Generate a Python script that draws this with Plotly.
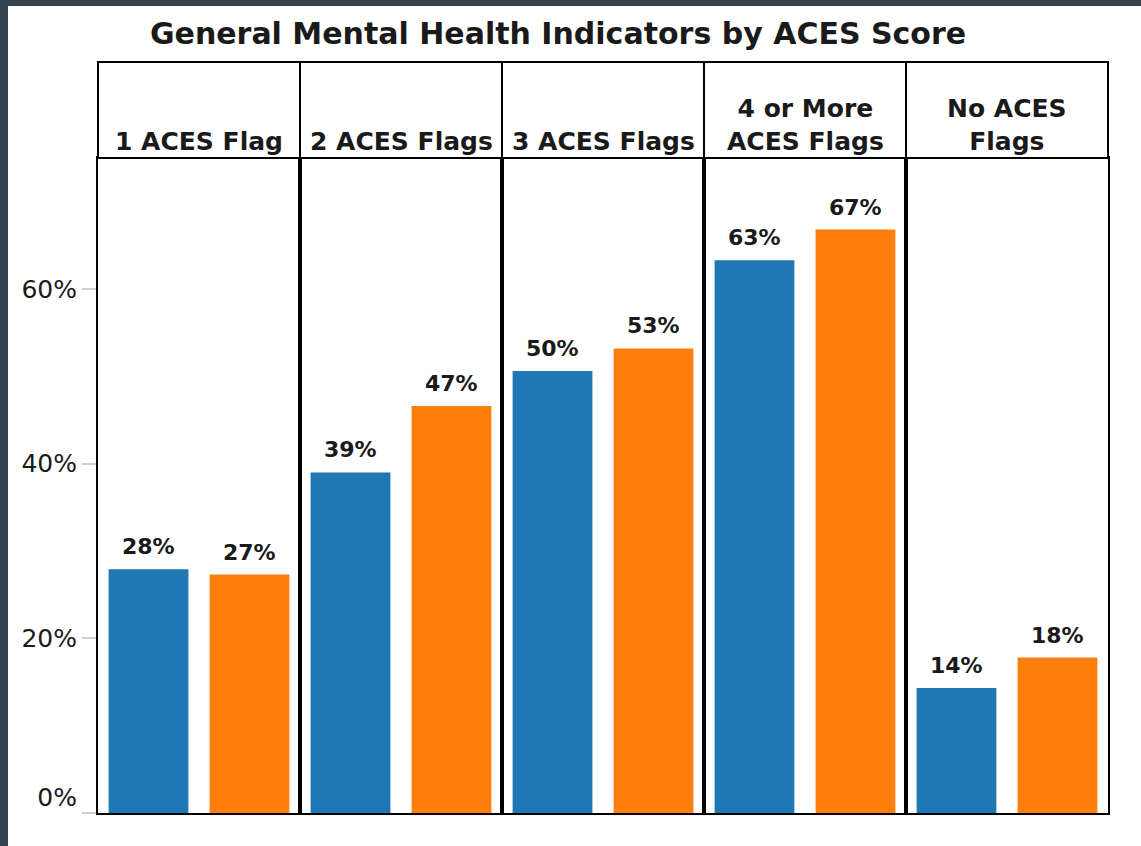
import plotly.graph_objects as go
from plotly.subplots import make_subplots

# ---- data ----
categories = ["1 ACES Flag", "2 ACES Flags", "3 ACES Flags", "4 or More<br>ACES Flags", "No ACES<br>Flags"]
series1 = [27.9, 39.0, 50.6, 63.3, 14.3]
series2 = [27.3, 46.6, 53.2, 66.8, 17.8]
labels1 = ["28%", "39%", "50%", "63%", "14%"]
labels2 = ["27%", "47%", "53%", "67%", "18%"]
series_names = ["Series 1", "Series 2"]
tick_vals = [0, 20, 40, 60]
tick_text = ["0%<br> ", "20%", "40%", "60%"]
title_text = "General Mental Health Indicators by ACES Score"

# ---- style ----
W, H = 1141, 846
L, R, T, B = 98, 33, 158, 33
PW, PH = W - L - R, H - T - B
BLUE, ORANGE = "#1f77b4", "#ff7f0e"
DARK = "#35444f"
TXT = "#1a1a1a"
FONT = "DejaVu Sans"


def px2x(px):
    return (px - L) / PW


def py2y(py):
    return (H - B - py) / PH


fig = make_subplots(rows=1, cols=5, shared_yaxes=True, horizontal_spacing=0)

for i in range(5):
    n = i + 1
    fig.add_trace(go.Bar(x=[series_names[0]], y=[series1[i]], marker_color=BLUE,
                         marker_line_width=0, width=0.79, name=series_names[0],
                         showlegend=False), row=1, col=n)
    fig.add_trace(go.Bar(x=[series_names[1]], y=[series2[i]], marker_color=ORANGE,
                         marker_line_width=0, width=0.79, name=series_names[1],
                         showlegend=False), row=1, col=n)
    sfx = "" if n == 1 else str(n)
    for xs, val, lab in ((series_names[0], series1[i], labels1[i]),
                         (series_names[1], series2[i], labels2[i])):
        fig.add_annotation(x=xs, y=val, xref="x" + sfx, yref="y" + sfx, text=lab,
                           showarrow=False, yanchor="bottom", yshift=8,
                           font=dict(family=FONT, size=22, color=TXT, weight="bold"))
    # strip box
    fig.add_shape(type="rect", xref="x" + sfx + " domain", yref="paper",
                  x0=0, x1=1, y0=1, y1=py2y(62), line=dict(color="black", width=2),
                  fillcolor="white", layer="above")
    fig.add_annotation(xref="x" + sfx + " domain", yref="paper", x=0.5, y=1,
                       yanchor="bottom", xanchor="center", text=categories[i],
                       showarrow=False,
                       font=dict(family=FONT, size=25, color=TXT, weight="bold"))
    fig.update_xaxes(row=1, col=n, range=[-0.5, 1.5], showticklabels=False,
                     ticks="", showgrid=False, zeroline=False, showline=True,
                     mirror=True, linecolor="black", linewidth=2, fixedrange=True)
    fig.update_yaxes(row=1, col=n, range=[0, 75], showgrid=False, zeroline=False,
                     showline=True, mirror=True, linecolor="black", linewidth=2)

fig.update_yaxes(row=1, col=1, tickvals=tick_vals, ticktext=tick_text, ticks="outside",
                 ticklen=14, tickwidth=2, tickcolor="#cfcfcf",
                 tickfont=dict(family=FONT, size=25, color=TXT))
for n in range(2, 6):
    fig.update_yaxes(row=1, col=n, showticklabels=False, ticks="")

# dark frame strips (top and left)
fig.add_shape(type="rect", xref="paper", yref="paper", x0=px2x(0), x1=px2x(W),
              y0=py2y(6), y1=py2y(0), fillcolor=DARK, line_width=0, layer="below")
fig.add_shape(type="rect", xref="paper", yref="paper", x0=px2x(0), x1=px2x(8),
              y0=py2y(H), y1=py2y(0), fillcolor=DARK, line_width=0, layer="below")

fig.update_layout(
    width=W, height=H, autosize=False,
    margin=dict(l=L, r=R, t=T, b=B, autoexpand=False),
    paper_bgcolor="white", plot_bgcolor="white",
    barmode="overlay",
    showlegend=False,
    title=dict(text=title_text, x=558 / W, xanchor="center", xref="container",
               y=1 - 33 / H, yanchor="middle", yref="container",
               font=dict(family=FONT, size=30, color=TXT, weight="bold")),
)

fig.write_html("out.html",
               config={"displayModeBar": False, "responsive": False},
               post_script="document.body.style.margin='0px';")
